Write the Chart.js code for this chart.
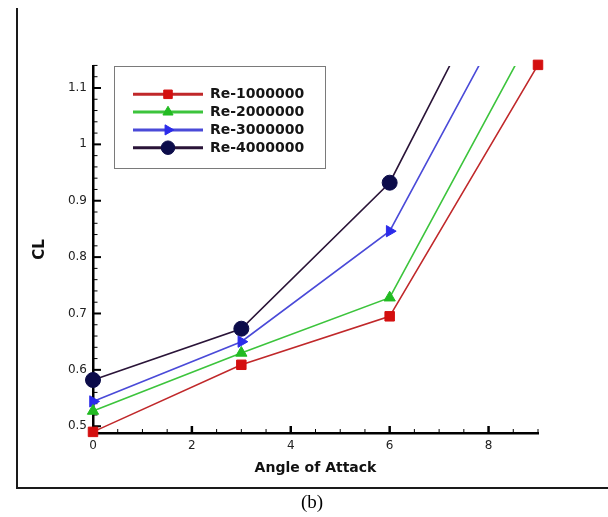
<!DOCTYPE html>
<html>
<head>
<meta charset="utf-8">
<script src="https://cdn.jsdelivr.net/npm/chart.js@4.4.0/dist/chart.umd.min.js"></script>
<style>
  html, body { margin: 0; padding: 0; background: #fff; }
  #wrap { position: relative; width: 608px; height: 517px; }
</style>
</head>
<body>
<div id="wrap"><canvas id="chart" width="608" height="517"></canvas></div>
<script>
// values
const angles = [0, 3, 6, 9];
const re1000000 = [0.49, 0.609, 0.695, 1.141];
const re2000000 = [0.527, 0.630, 0.728, 1.215];
const re3000000 = [0.544, 0.650, 0.846, 1.334];
const re4000000 = [0.582, 0.673, 0.932, 1.445];
const seriesNames = ['Re-1000000', 'Re-2000000', 'Re-3000000', 'Re-4000000'];
const xTickValues = [0, 2, 4, 6, 8];
const yTickValues = [0.5, 0.6, 0.7, 0.8, 0.9, 1, 1.1];

const styles = [
    { line: '#c0282a', mark: '#d40f0f', pointStyle: 'rect', radius: 6.7, rotation: 0 },
    { line: '#3cc43c', mark: '#22bb22', pointStyle: 'triangle', radius: 6.5, rotation: 0 },
    { line: '#4a4ad8', mark: '#2b2bea', pointStyle: 'triangle', radius: 6.5, rotation: 90 },
    { line: '#2a1438', mark: '#0c0c4a', pointStyle: 'circle', radius: 7.5, rotation: 0 }
];

const seriesValues = [re1000000, re2000000, re3000000, re4000000];

const datasets = seriesValues.map((vals, i) => ({
    label: seriesNames[i],
    data: angles.map((a, k) => ({ x: a, y: vals[k] })),
    borderColor: styles[i].line,
    borderWidth: 1.6,
    backgroundColor: styles[i].mark,
    pointBackgroundColor: styles[i].mark,
    pointBorderColor: styles[i].mark,
    pointBorderWidth: 1,
    pointStyle: styles[i].pointStyle,
    pointRadius: styles[i].radius,
    pointRotation: styles[i].rotation,
    tension: 0,
    fill: false,
    // first series keeps its last marker, the others are cut at the top edge
    clip: i === 0 ? false : { left: 20, bottom: 20, right: 0, top: 0 }
}));

// frame, inward ticks, legend box and caption
const decorations = {
    id: 'decorations',
    beforeDatasetsDraw(chart) {
        const ctx = chart.ctx;
        const xs = chart.scales.x, ys = chart.scales.y;
        const left = chart.chartArea.left, bottom = chart.chartArea.bottom;
        ctx.save();
        ctx.strokeStyle = '#1a1a1a';
        ctx.lineWidth = 2;
        ctx.beginPath();
        ctx.moveTo(17, 8);
        ctx.lineTo(17, 488);
        ctx.lineTo(608, 488);
        ctx.stroke();

        ctx.strokeStyle = '#000';
        // x ticks
        for (let v = 0.5; v <= 9.001; v += 0.5) {
            const major = xTickValues.includes(Math.round(v * 10) / 10);
            const px = xs.getPixelForValue(v);
            ctx.lineWidth = major ? 2.5 : 1;
            ctx.beginPath();
            ctx.moveTo(px, bottom);
            ctx.lineTo(px, bottom - (major ? 7 : 4));
            ctx.stroke();
        }
        // y ticks
        for (let k = 25; k <= 57; k++) {
            const v = k * 0.02;
            if (v > ys.max + 0.002) break;
            const major = yTickValues.some(t => Math.abs(t - v) < 1e-6);
            const py = ys.getPixelForValue(v);
            ctx.lineWidth = major ? 2 : 1;
            ctx.beginPath();
            ctx.moveTo(left, py);
            ctx.lineTo(left + (major ? 8 : 4.5), py);
            ctx.stroke();
        }

        ctx.fillStyle = '#000';
        ctx.font = '19px "Liberation Serif", serif';
        ctx.textAlign = 'center';
        ctx.textBaseline = 'middle';
        ctx.fillText('(b)', 312, 503);
        ctx.restore();
    },
    afterDraw(chart) {
        const ctx = chart.ctx;
        ctx.save();
        ctx.fillStyle = '#fff';
        ctx.fillRect(114.5, 66.5, 211, 102);
        ctx.strokeStyle = '#7a7a7a';
        ctx.lineWidth = 1;
        ctx.strokeRect(114.5, 66.5, 211, 102);
        chart.data.datasets.forEach((ds, i) => {
            const y = 94.3 + i * 17.8;
            ctx.strokeStyle = ds.borderColor;
            ctx.lineWidth = 3;
            ctx.beginPath();
            ctx.moveTo(133, y);
            ctx.lineTo(203, y);
            ctx.stroke();
            ctx.fillStyle = ds.pointBackgroundColor;
            ctx.strokeStyle = ds.pointBorderColor;
            ctx.lineWidth = 1;
            Chart.helpers.drawPoint(ctx, {
                pointStyle: ds.pointStyle,
                radius: ds.pointRadius * 0.9,
                rotation: ds.pointRotation,
                borderWidth: 1
            }, 168, y);
            ctx.fillStyle = '#151515';
            ctx.font = 'bold 14px "DejaVu Sans", sans-serif';
            ctx.textAlign = 'left';
            ctx.textBaseline = 'middle';
            ctx.fillText(ds.label, 210, y + 0.5);
        });
        ctx.restore();
    }
};

new Chart(document.getElementById('chart'), {
    type: 'line',
    data: { datasets: datasets },
    options: {
        responsive: false,
        devicePixelRatio: 1,
        animation: false,
        layout: { padding: { top: 66, right: 70, left: 0, bottom: 0 } },
        plugins: { legend: { display: false }, tooltip: { enabled: false } },
        scales: {
            x: {
                type: 'linear',
                min: 0,
                max: 9,
                afterBuildTicks: (s) => { s.ticks = xTickValues.map(v => ({ value: v })); },
                afterFit: (s) => { s.height = 84; s.paddingLeft = 0; s.paddingRight = 0; },
                ticks: {
                    autoSkip: false,
                    maxRotation: 0,
                    padding: 6,
                    color: '#222',
                    font: { family: 'DejaVu Sans', size: 12 },
                    callback: (v) => String(v)
                },
                grid: { display: false, drawTicks: false },
                border: { display: true, color: '#000', width: 2.5 },
                title: {
                    display: true,
                    text: 'Angle of Attack',
                    color: '#111',
                    font: { family: 'DejaVu Sans', size: 14, weight: 'bold' },
                    padding: { top: 0, bottom: 40.6 }
                }
            },
            y: {
                type: 'linear',
                min: 0.488,
                max: 1.139,
                afterBuildTicks: (s) => { s.ticks = yTickValues.map(v => ({ value: v })); },
                afterFit: (s) => { s.width = 93; s.paddingTop = 0; s.paddingBottom = 0; },
                ticks: {
                    padding: 6,
                    color: '#222',
                    font: { family: 'DejaVu Sans', size: 12 },
                    callback: (v) => String(v)
                },
                grid: { display: false, drawTicks: false },
                border: { display: true, color: '#000', width: 2.5 },
                title: {
                    display: true,
                    text: 'CL',
                    color: '#111',
                    font: { family: 'DejaVu Sans', size: 15, weight: 'bold' },
                    padding: { top: 31, bottom: 0 }
                }
            }
        }
    },
    plugins: [decorations]
});
</script>
</body>
</html>
